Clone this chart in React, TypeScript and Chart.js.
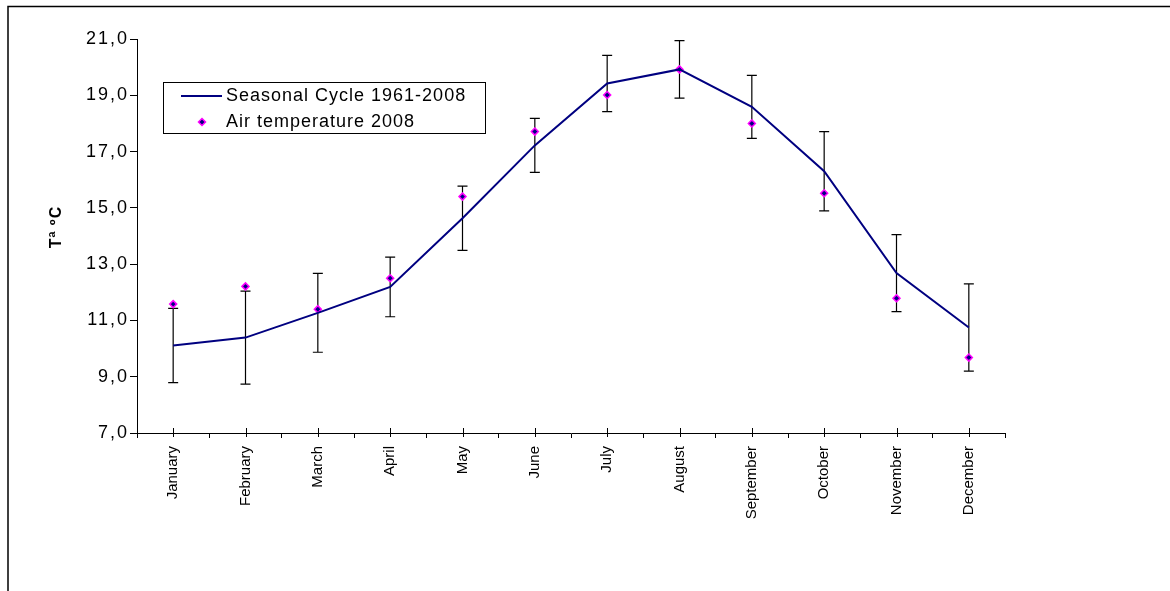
import React, { useEffect, useRef } from 'react';
import { Chart, registerables } from 'chart.js';

Chart.register(...registerables);

// ---- data ----
const months = [
  'January', 'February', 'March', 'April', 'May', 'June',
  'July', 'August', 'September', 'October', 'November', 'December',
];
const seasonalCycle = [10.11, 10.39, 11.27, 12.19, 14.63, 17.22, 19.42, 19.92, 18.59, 16.3, 12.68, 10.75];
const seasonalStd = [1.32, 1.65, 1.4, 1.06, 1.14, 0.96, 1.0, 1.02, 1.12, 1.41, 1.37, 1.55];
const airTemp2008 = [11.58, 12.21, 11.4, 12.5, 15.4, 17.71, 19.01, 19.92, 18.0, 15.52, 11.79, 9.68];
const yMin = 7;
const yMax = 21;
const yStep = 2;
const legendLabels = ['Seasonal Cycle 1961-2008', 'Air temperature 2008'];
const yTitle = 'Tª ºC';

const W = 1170;
const H = 591;
const FONT = '"Liberation Sans", Arial, Helvetica, sans-serif';
const NAVY = '#000080';
const MAGENTA = '#FF00FF';

const setSpacing = (ctx: any, v: string) => {
  try {
    ctx.letterSpacing = v;
  } catch (e) {}
};

const decorPlugin = {
  id: 'decor',
  beforeDraw(chart: any) {
    const ys = chart.scales.y;
    if (ys && !ys.__spaced) {
      const orig = ys.drawLabels.bind(ys);
      ys.drawLabels = (area: any) => {
        const c = ys.ctx;
        c.save();
        setSpacing(c, '2px');
        orig(area);
        c.restore();
      };
      ys.__spaced = true;
    }
  },
  beforeDatasetsDraw(chart: any) {
    const { ctx, scales } = chart;
    const x = scales.x;
    const y = scales.y;
    ctx.save();
    ctx.strokeStyle = '#000';
    ctx.lineWidth = 1.2;
    seasonalCycle.forEach((m, i) => {
      const px = x.getPixelForValue(i);
      const top = y.getPixelForValue(m + seasonalStd[i]);
      const bot = y.getPixelForValue(m - seasonalStd[i]);
      ctx.beginPath();
      ctx.moveTo(px, top);
      ctx.lineTo(px, bot);
      ctx.moveTo(px - 5, top);
      ctx.lineTo(px + 5, top);
      ctx.moveTo(px - 5, bot);
      ctx.lineTo(px + 5, bot);
      ctx.stroke();
    });
    ctx.restore();
  },
  afterDraw(chart: any) {
    const { ctx, scales, chartArea } = chart;
    const x = scales.x;
    ctx.save();
    // cross ticks at category centres
    ctx.strokeStyle = '#000';
    ctx.lineWidth = 1;
    const ay = chartArea.bottom;
    months.forEach((_, i) => {
      const px = Math.round(x.getPixelForValue(i)) + 0.5;
      ctx.beginPath();
      ctx.moveTo(px, ay - 5);
      ctx.lineTo(px, ay + 4);
      ctx.stroke();
    });

    // outer frame (top + left)
    ctx.lineWidth = 1.5;
    ctx.beginPath();
    ctx.moveTo(8, H);
    ctx.lineTo(8, 6.5);
    ctx.lineTo(W, 6.5);
    ctx.stroke();

    // y title
    ctx.save();
    ctx.translate(57, 227);
    ctx.rotate(-Math.PI / 2);
    ctx.font = `bold 16px ${FONT}`;
    ctx.fillStyle = '#000';
    ctx.textAlign = 'center';
    ctx.textBaseline = 'middle';
    setSpacing(ctx, '1px');
    ctx.fillText(yTitle, 0, 0);
    ctx.restore();

    // legend
    const lx = 163.5;
    const ly = 82.5;
    const lw = 322;
    const lh = 51;
    ctx.fillStyle = '#fff';
    ctx.fillRect(lx, ly, lw, lh);
    ctx.strokeStyle = '#000';
    ctx.lineWidth = 1;
    ctx.strokeRect(lx, ly, lw, lh);

    const ds = chart.data.datasets;
    // row 1: line sample
    ctx.strokeStyle = ds[0].borderColor;
    ctx.lineWidth = 2;
    ctx.beginPath();
    ctx.moveTo(181, 96);
    ctx.lineTo(222, 96);
    ctx.stroke();
    // row 2: diamond
    const cx = 202;
    const cy = 122;
    const r = 3.5;
    ctx.beginPath();
    ctx.moveTo(cx, cy - r);
    ctx.lineTo(cx + r, cy);
    ctx.lineTo(cx, cy + r);
    ctx.lineTo(cx - r, cy);
    ctx.closePath();
    ctx.fillStyle = ds[1].pointBackgroundColor;
    ctx.fill();
    ctx.strokeStyle = ds[1].pointBorderColor;
    ctx.lineWidth = 1.5;
    ctx.stroke();

    ctx.fillStyle = '#000';
    ctx.font = `18px ${FONT}`;
    ctx.textAlign = 'left';
    ctx.textBaseline = 'middle';
    setSpacing(ctx, '1px');
    ctx.fillText(ds[0].label, 226, 96);
    ctx.fillText(ds[1].label, 226, 122);
    ctx.restore();
  },
};

export default function App() {
  const ref = useRef<HTMLCanvasElement>(null);

  useEffect(() => {
    document.body.style.margin = '0';
    const canvas = ref.current;
    if (!canvas) return;
    const chart = new Chart(canvas, {
      type: 'line',
      data: {
        labels: months,
        datasets: [
          {
            label: legendLabels[0],
            data: seasonalCycle,
            borderColor: NAVY,
            backgroundColor: NAVY,
            borderWidth: 2,
            pointRadius: 0,
            tension: 0,
            fill: false,
          },
          {
            label: legendLabels[1],
            data: airTemp2008,
            showLine: false,
            pointStyle: 'rectRot',
            pointRadius: 3.5,
            pointBackgroundColor: NAVY,
            pointBorderColor: MAGENTA,
            pointBorderWidth: 1.5,
            borderColor: MAGENTA,
            backgroundColor: NAVY,
          },
        ],
      },
      options: {
        responsive: false,
        maintainAspectRatio: false,
        animation: false,
        events: [],
        layout: { padding: { left: 0, top: 39, right: 165, bottom: 0 } },
        plugins: {
          legend: { display: false },
          tooltip: { enabled: false },
          title: { display: false },
        },
        scales: {
          x: {
            type: 'category',
            offset: true,
            grid: {
              offset: true,
              drawOnChartArea: false,
              drawTicks: true,
              tickLength: 5,
              color: '#000',
            },
            border: { display: true, color: '#000', width: 1 },
            ticks: {
              autoSkip: false,
              maxRotation: 90,
              minRotation: 90,
              padding: 8,
              color: '#000',
              font: { family: FONT, size: 15 },
            },
            afterFit(scale: any) {
              scale.height = 158;
            },
          },
          y: {
            min: yMin,
            max: yMax,
            ticks: {
              stepSize: yStep,
              color: '#000',
              padding: 1,
              font: { family: FONT, size: 18 },
              callback: (v: any) => Number(v).toFixed(1).replace('.', ','),
            },
            grid: {
              drawOnChartArea: false,
              drawTicks: true,
              tickLength: 7,
              color: '#000',
            },
            border: { display: true, color: '#000', width: 1 },
            afterFit(scale: any) {
              scale.width = 137;
            },
          },
        },
      },
      plugins: [decorPlugin],
    } as any);
    return () => chart.destroy();
  }, []);

  return (
    <div style={{ position: 'relative', width: W, height: H, background: '#fff' }}>
      <canvas ref={ref} width={W} height={H} style={{ width: W, height: H, display: 'block' }} />
    </div>
  );
}
